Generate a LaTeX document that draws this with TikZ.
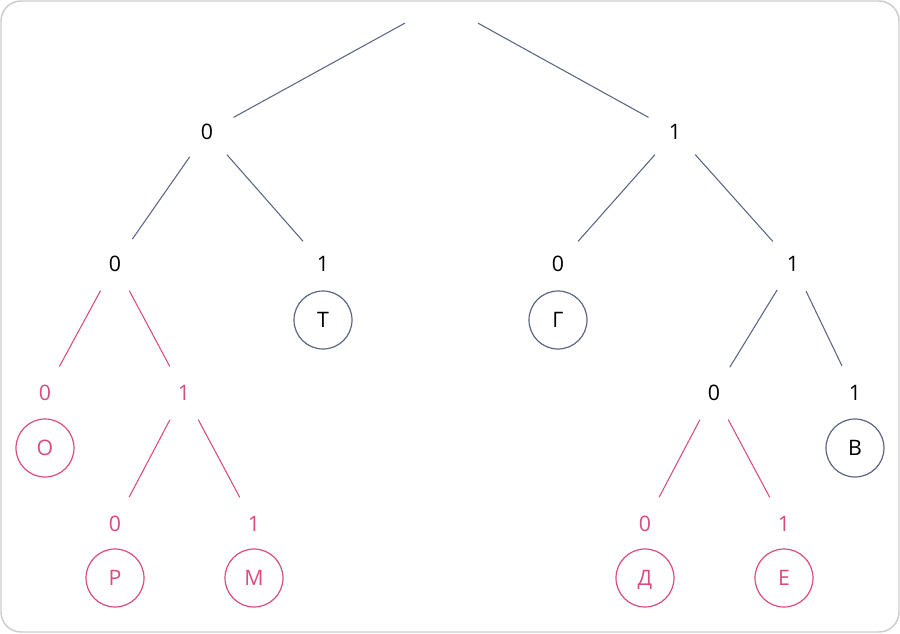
\documentclass[tikz,border=0pt]{standalone}
\usepackage{fontspec}
\setmainfont{Open Sans}
\usetikzlibrary{positioning}
\definecolor{slate}{HTML}{5B6684}
\definecolor{rose}{HTML}{DA4C7E}
\definecolor{frame}{HTML}{CCCCCC}

\begin{document}
\begin{tikzpicture}[x=0.75pt,y=0.75pt,yscale=-1,xscale=1,
  bit/.style={circle,minimum size=45pt,inner sep=0pt,text height=11.4pt,text depth=0pt,font=\fontsize{16}{19}\selectfont},
  rbit/.style={bit,text=rose},
  leaf/.style={circle,draw=slate,line width=0.9pt,minimum size=43.5pt,inner sep=0pt,text height=11.4pt,text depth=0pt,font=\fontsize{16}{19}\selectfont},
  rleaf/.style={leaf,draw=rose,text=rose},
  wire/.style={draw=slate,line width=0.8pt},
  rwire/.style={draw=rose,line width=0.8pt}]
\useasboundingbox (0,0) rectangle (900,633);
%frame
\draw [frame,line width=1.1pt,rounded corners=15pt] (1,1) rectangle (899,632);

%root
\coordinate (root) at (441.5,3);

% Text Node
\node [bit] (n0) at (207,132) {0};
\node [bit] (n1) at (675,132) {1};
% Text Node
\node [bit] (n00) at (115,264) {0};
\node [bit] (n01) at (323,264) {1};
\node [bit] (n10) at (558,264) {0};
\node [bit] (n11) at (793,264) {1};
% Text Node
\node [rbit] (n000) at (45,393) {0};
\node [rbit] (n001) at (184,393) {1};
\node [bit] (n110) at (714,393) {0};
\node [bit] (n111) at (855,393) {1};
% Text Node
\node [rbit] (n0010) at (115,524) {0};
\node [rbit] (n0011) at (254,524) {1};
\node [rbit] (n1100) at (645,524) {0};
\node [rbit] (n1101) at (784,524) {1};

%Leaves
\node [leaf] (t) at (323,320) {Т};
\node [leaf] (g) at (558,320) {Г};
\node [leaf] (v) at (855,448) {В};
\node [rleaf] (o) at (45,448) {О};
\node [rleaf] (r) at (115,578) {Р};
\node [rleaf] (m) at (254,578) {М};
\node [rleaf] (d) at (645,578) {Д};
\node [rleaf] (e) at (784,578) {Е};

%Straight Lines
\draw [wire,shorten <=31.3pt] (root) -- (n0);
\draw [wire,shorten <=31.3pt] (root) -- (n1);
\draw [wire] (n0) -- (n00);
\draw [wire] (n0) -- (n01);
\draw [wire] (n1) -- (n10);
\draw [wire] (n1) -- (n11);
\draw [wire] (n11) -- (n110);
\draw [wire] (n11) -- (n111);
%Straight Lines
\draw [rwire] (n00) -- (n000);
\draw [rwire] (n00) -- (n001);
\draw [rwire] (n001) -- (n0010);
\draw [rwire] (n001) -- (n0011);
\draw [rwire] (n110) -- (n1100);
\draw [rwire] (n110) -- (n1101);

\end{tikzpicture}
\end{document}
